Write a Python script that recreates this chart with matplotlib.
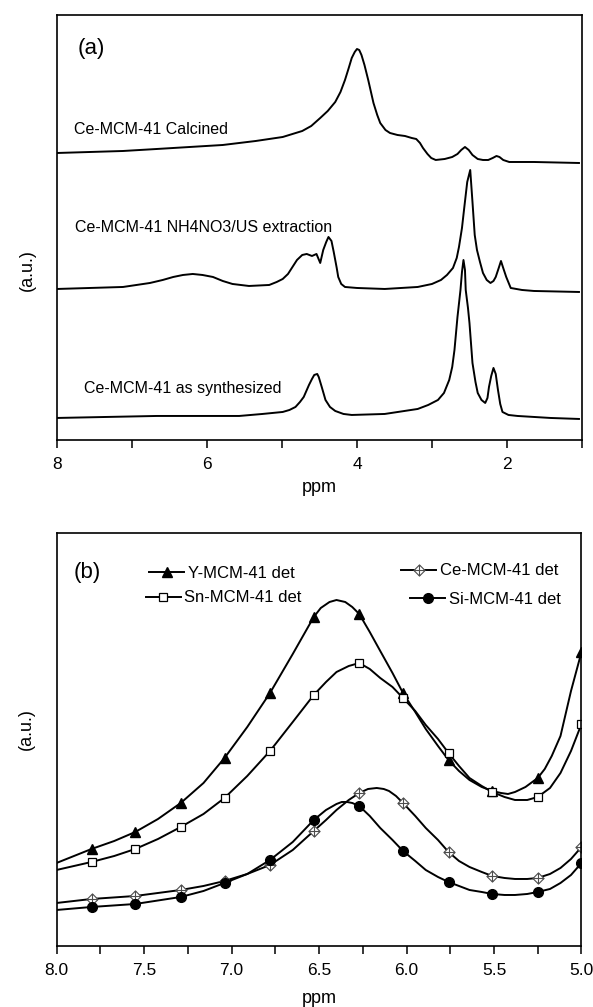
import numpy as np
import matplotlib
matplotlib.use('Agg')
from matplotlib import pyplot as plt
from matplotlib.lines import Line2D
from matplotlib.legend import Legend
from matplotlib.path import Path
from matplotlib.ticker import MultipleLocator, FormatStrFormatter

plt.rcParams['font.family'] = ['Liberation Sans', 'DejaVu Sans']
plt.rcParams['lines.solid_joinstyle'] = 'round'

# ---- panel (a): 1H NMR spectra ----
calc_ppm = [8.00, 7.56, 7.12, 6.67, 6.23, 5.79, 5.35, 4.99, 4.86, 4.73, 4.61, 4.49, 4.39,
            4.29, 4.22, 4.16, 4.11, 4.07, 4.03, 4.00, 3.97, 3.94, 3.90, 3.85, 3.78, 3.73,
            3.69, 3.62, 3.56, 3.46, 3.36, 3.27, 3.21, 3.16, 3.12, 3.06, 3.01, 2.95, 2.83,
            2.73, 2.66, 2.61, 2.56, 2.51, 2.46, 2.39, 2.32, 2.25, 2.19, 2.14, 2.10, 2.05,
            1.97, 1.80, 1.64, 1.04]
calc_int = [287, 288, 289, 291, 293, 295, 299, 303, 306, 309, 314, 322, 329,
            338, 348, 360, 372, 382, 388, 391, 390, 385, 375, 360, 337, 325,
            317, 310, 307, 305, 304, 302, 301, 297, 292, 286, 282, 280, 281,
            283, 286, 290, 293, 290, 285, 281, 280, 280, 282, 284, 283, 280,
            278, 278, 278, 277]

nh4_ppm = [8.00, 7.56, 7.12, 6.76, 6.59, 6.45, 6.32, 6.19, 6.06, 5.92, 5.79, 5.66, 5.44,
           5.17, 5.07, 4.99, 4.92, 4.86, 4.80, 4.73, 4.67, 4.60, 4.54, 4.49, 4.45, 4.41,
           4.38, 4.34, 4.31, 4.27, 4.25, 4.21, 4.16, 4.00, 3.63, 3.19, 3.00, 2.88, 2.80,
           2.72, 2.67, 2.64, 2.60, 2.57, 2.53, 2.49, 2.46, 2.43, 2.40, 2.36, 2.32, 2.27,
           2.22, 2.18, 2.15, 2.11, 2.08, 2.05, 2.01, 1.95, 1.80, 1.64, 1.04]
nh4_int = [151, 152, 153, 157, 160, 163, 165, 166, 165, 163, 159, 156, 154,
           155, 158, 161, 166, 173, 180, 185, 186, 184, 186, 177, 190, 198,
           203, 199, 188, 172, 163, 156, 153, 152, 151, 153, 156, 160, 165,
           172, 182, 193, 212, 232, 258, 270, 238, 205, 190, 178, 167, 160,
           157, 159, 163, 172, 179, 172, 163, 152, 150, 149, 148]

syn_ppm = [8.00, 7.34, 6.67, 6.01, 5.57, 5.26, 4.99, 4.90, 4.82, 4.76, 4.71, 4.64, 4.60,
           4.57, 4.53, 4.51, 4.47, 4.42, 4.36, 4.29, 4.18, 4.07, 3.63, 3.19, 3.05, 2.92,
           2.84, 2.77, 2.73, 2.70, 2.66, 2.62, 2.60, 2.58, 2.56, 2.55, 2.52, 2.50, 2.46,
           2.42, 2.39, 2.34, 2.29, 2.26, 2.24, 2.21, 2.18, 2.15, 2.12, 2.09, 2.06, 1.98,
           1.86, 1.42, 1.04]
syn_int = [22, 23, 24, 24, 24, 26, 28, 30, 33, 38, 43, 55, 61,
           65, 66, 63, 53, 40, 33, 29, 26, 25, 26, 31, 35, 40,
           47, 60, 73, 90, 123, 150, 168, 180, 170, 150, 132, 117, 77,
           58, 47, 40, 37, 42, 53, 64, 72, 66, 50, 36, 28, 25,
           24, 22, 21]

# ---- panel (b): detail 8-5 ppm ----
mark_ppm = [7.80, 7.55, 7.29, 7.04, 6.78, 6.53, 6.27, 6.02, 5.76, 5.51, 5.25, 5.00]
y_mark = [97, 114, 143, 188, 253, 329, 332, 253, 186, 155, 168, 294]
sn_mark = [84, 97, 119, 148, 195, 251, 283, 248, 193, 154, 149, 222]
ce_mark = [47, 50, 56, 65, 81, 115, 153, 143, 94, 70, 68, 99]
si_mark = [39, 42, 49, 63, 86, 126, 140, 95, 64, 52, 54, 83]

y_line_ppm = [8.00, 7.90, 7.80, 7.67, 7.55, 7.42, 7.29, 7.16, 7.04, 6.91, 6.78, 6.65, 6.53,
              6.49, 6.44, 6.40, 6.35, 6.31, 6.27, 6.21, 6.15, 6.08, 6.02, 5.95, 5.89, 5.82,
              5.76, 5.70, 5.64, 5.57, 5.51, 5.46, 5.42, 5.38, 5.32, 5.25, 5.21, 5.17, 5.12,
              5.06, 5.00]
y_line = [83, 90, 97, 105, 114, 127, 143, 163, 188, 219, 253, 292, 329,
          338, 344, 346, 344, 339, 332, 314, 295, 273, 253, 234, 217, 200,
          186, 175, 166, 159, 155, 153, 152, 154, 159, 168, 177, 190, 210,
          255, 294]

sn_line_ppm = [8.00, 7.90, 7.80, 7.67, 7.55, 7.42, 7.29, 7.16, 7.04, 6.91, 6.78, 6.65, 6.53,
               6.46, 6.40, 6.33, 6.27, 6.21, 6.15, 6.08, 6.02, 5.95, 5.89, 5.82, 5.76, 5.70,
               5.64, 5.57, 5.51, 5.44, 5.38, 5.31, 5.25, 5.18, 5.12, 5.06, 5.00]
sn_line = [76, 80, 84, 90, 97, 107, 119, 132, 148, 170, 195, 224, 251,
           264, 274, 280, 283, 277, 268, 259, 248, 235, 221, 207, 193, 180,
           168, 160, 154, 149, 146, 146, 149, 158, 173, 195, 222]

ce_line_ppm = [8.00, 7.80, 7.55, 7.29, 7.16, 7.04, 6.91, 6.78, 6.65, 6.53, 6.46, 6.40,
               6.33, 6.27, 6.22, 6.17, 6.13, 6.10, 6.06, 6.02, 5.95, 5.89, 5.82, 5.76,
               5.70, 5.64, 5.57, 5.51, 5.44, 5.38, 5.31, 5.25, 5.18, 5.12, 5.06, 5.00]
ce_line = [43, 47, 50, 56, 60, 65, 72, 81, 96, 115, 126, 136,
           146, 153, 157, 158, 157, 155, 150, 143, 130, 118, 106, 94,
           85, 79, 74, 70, 68, 67, 67, 68, 72, 78, 87, 99]

si_line_ppm = [8.00, 7.80, 7.55, 7.29, 7.16, 7.04, 6.91, 6.78, 6.65, 6.53, 6.46, 6.40,
               6.37, 6.34, 6.31, 6.27, 6.21, 6.15, 6.08, 6.02, 5.95, 5.89, 5.82, 5.76,
               5.70, 5.64, 5.57, 5.51, 5.44, 5.38, 5.31, 5.25, 5.18, 5.12, 5.06, 5.00]
si_line = [36, 39, 42, 49, 55, 63, 72, 86, 104, 126, 136, 142,
           144, 144, 143, 140, 130, 118, 106, 95, 85, 76, 69, 64,
           60, 56, 54, 52, 51, 51, 52, 54, 57, 63, 71, 83]

# diamond with a cross inside (Origin style)
ce_marker = Path([(0, 1), (1, 0), (0, -1), (-1, 0), (0, 1), (0, 1), (0, -1), (-1, 0), (1, 0)],
                 [Path.MOVETO, Path.LINETO, Path.LINETO, Path.LINETO, Path.CLOSEPOLY,
                  Path.MOVETO, Path.LINETO, Path.MOVETO, Path.LINETO])

LW = 1.4
fig = plt.figure(figsize=(5.93, 10.07), dpi=100)
ax1 = fig.add_axes([0.0961, 0.5631, 0.8853, 0.4220])
ax2 = fig.add_axes([0.0953, 0.0606, 0.8853, 0.4101])

# (a)
ax1.plot(calc_ppm, calc_int, color='k', lw=LW)
ax1.plot(nh4_ppm, nh4_int, color='k', lw=LW)
ax1.plot(syn_ppm, syn_int, color='k', lw=LW)
ax1.set_xlim(8, 1)
ax1.set_ylim(0, 425)
ax1.xaxis.set_major_locator(MultipleLocator(2))
ax1.xaxis.set_minor_locator(MultipleLocator(1))
ax1.text(7.72, 392, '(a)', fontsize=16, va='center', ha='left')
ax1.text(7.77, 310, 'Ce-MCM-41 Calcined', fontsize=11.5, va='center')
ax1.text(7.76, 212, 'Ce-MCM-41 NH4NO3/US extraction', fontsize=11.5, va='center')
ax1.text(7.64, 51, 'Ce-MCM-41 as synthesized', fontsize=11.5, va='center')

# (b)
ax2.plot(y_line_ppm, y_line, color='k', lw=LW)
ax2.plot(mark_ppm, y_mark, ls='none', marker='^', ms=7, color='k')
ax2.plot(sn_line_ppm, sn_line, color='k', lw=LW)
ax2.plot(mark_ppm, sn_mark, ls='none', marker='s', ms=6, mfc='white', mec='k', mew=0.9)
ax2.plot(ce_line_ppm, ce_line, color='k', lw=LW)
ax2.plot(mark_ppm, ce_mark, ls='none', marker=ce_marker, ms=8, mfc='white', mec='0.3', mew=0.8)
ax2.plot(si_line_ppm, si_line, color='k', lw=LW)
ax2.plot(mark_ppm, si_mark, ls='none', marker='o', ms=7, color='k')
ax2.set_xlim(8.0, 5.0)
ax2.set_ylim(0, 413)
ax2.xaxis.set_major_locator(MultipleLocator(0.5))
ax2.xaxis.set_minor_locator(MultipleLocator(0.25))
ax2.xaxis.set_major_formatter(FormatStrFormatter('%.1f'))
ax2.text(7.90, 374, '(b)', fontsize=16, va='center', ha='left')

handles = [
    (Line2D([], [], color='k', lw=LW, marker='^', ms=7), 'Y-MCM-41 det', (0.177, 0.903)),
    (Line2D([], [], color='k', lw=LW, marker='s', ms=6, mfc='white', mew=0.9), 'Sn-MCM-41 det', (0.170, 0.843)),
    (Line2D([], [], color='k', lw=LW, marker=ce_marker, ms=8, mfc='white', mec='0.3', mew=0.8), 'Ce-MCM-41 det', (0.657, 0.908)),
    (Line2D([], [], color='k', lw=LW, marker='o', ms=7), 'Si-MCM-41 det', (0.674, 0.840)),
]
for h, lab, pos in handles:
    leg = Legend(ax2, [h], [lab], loc='center left', bbox_to_anchor=pos, frameon=False,
                 fontsize=12, handlelength=2.1, handletextpad=0.2, borderpad=0,
                 borderaxespad=0, numpoints=1)
    ax2.add_artist(leg)

for ax, ylab_y, xlab_y in ((ax1, 0.40, -0.111), (ax2, 0.525, -0.126)):
    for s in ax.spines.values():
        s.set_linewidth(1.2)
    ax.set_yticks([])
    ax.tick_params(axis='x', which='both', direction='out', length=6, width=1.1,
                   labelsize=12.5, pad=6, top=False)
    ax.set_xlabel('ppm', fontsize=13)
    ax.set_ylabel('(a.u.)', fontsize=13)
    ax.xaxis.set_label_coords(0.5, xlab_y)
    ax.xaxis.label.set_va('center')
    ax.yaxis.set_label_coords(-0.057, ylab_y)
    ax.yaxis.label.set_va('center')
    ax.yaxis.label.set_ha('center')

fig.savefig('out.png', dpi=100)
